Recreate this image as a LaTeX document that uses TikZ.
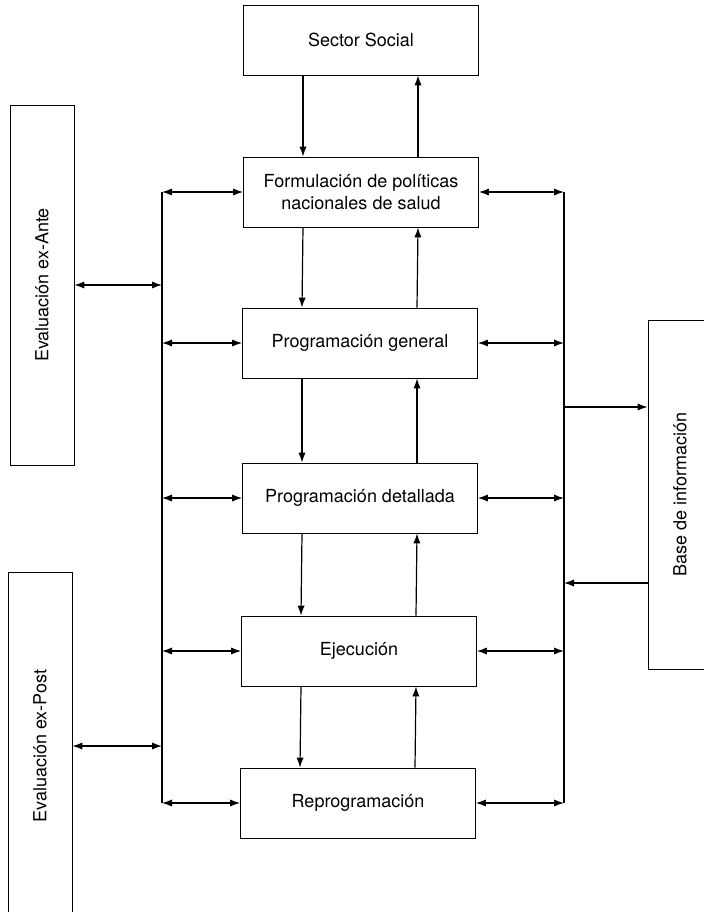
\documentclass[tikz,border=0pt]{standalone}
\usepackage{fontspec}
\setmainfont{TeX Gyre Heros}
\usetikzlibrary{arrows.meta}
\tikzset{
  >={Latex[length=5pt,width=3.6pt]},
}
\tikzstyle{box}=[draw,thin,minimum width=117.5pt,minimum height=35pt,align=center,inner sep=2pt]
\tikzstyle{side}=[draw,thin,rotate=90,minimum height=32pt,inner sep=2pt]
\tikzstyle{flow}=[semithick,->]
\tikzstyle{link}=[semithick,<->]
\tikzstyle{bus}=[thick]
\tikzstyle{every node}=[font=\fontsize{9}{11}\selectfont]

\begin{document}
\begin{tikzpicture}[x=0.5pt,y=-0.5pt]
    \useasboundingbox (0,0) rectangle (704,912);
    \node[box] (soc) at (361,40) {Sector Social};
    \node[box] (form) at (361,192) {Formulación de políticas\\nacionales de salud};
    \node[box] (gen) at (360,343) {Programación general};
    \node[box] (det) at (360,498) {Programación detallada};
    \node[box] (eje) at (359,651) {Ejecución};
    \node[box] (rep) at (358,803) {Reprogramación};
    \node[side,minimum width=180pt] (ante) at (42,285) {Evaluación ex-Ante};
    \node[side,minimum width=174pt] (post) at (40,746) {Evaluación ex-Post};
    \node[side,minimum width=174.5pt] (base) at (680,494.5) {Base de información};
    % vertical flow
    \draw[flow] ([xshift=-29pt]soc.south) -- ([xshift=-29pt]form.north);
    \draw[flow] ([xshift=28.5pt]form.north) -- ([xshift=28.5pt]soc.south);
    \draw[flow] ([xshift=-29pt]form.south) -- ([xshift=-29pt]gen.north);
    \draw[flow] ([xshift=28.5pt]gen.north) -- ([xshift=28.5pt]form.south);
    \draw[flow] ([xshift=-29pt]gen.south) -- ([xshift=-29pt]det.north);
    \draw[flow] ([xshift=28.5pt]det.north) -- ([xshift=28.5pt]gen.south);
    \draw[flow] ([xshift=-29pt]det.south) -- ([xshift=-29pt]eje.north);
    \draw[flow] ([xshift=28.5pt]eje.north) -- ([xshift=28.5pt]det.south);
    \draw[flow] ([xshift=-29pt]eje.south) -- ([xshift=-29pt]rep.north);
    \draw[flow] ([xshift=28.5pt]rep.north) -- ([xshift=28.5pt]eje.south);
    % left bus
    \coordinate (ltop) at (162,192);
    \coordinate (lbot) at (162,803);
    \draw[bus] (ltop) -- (lbot);
    \draw[link] (form.west -| ltop) -- (form.west);
    \draw[link] (gen.west -| ltop) -- (gen.west);
    \draw[link] (det.west -| ltop) -- (det.west);
    \draw[link] (eje.west -| ltop) -- (eje.west);
    \draw[link] (rep.west -| ltop) -- (rep.west);
    \draw[link] (ante.south) -- (ante.south -| ltop);
    \draw[link] (post.south) -- (post.south -| ltop);
    % right bus
    \coordinate (rtop) at (564,192);
    \coordinate (rbot) at (564,803);
    \draw[bus] (rtop) -- (rbot);
    \draw[link] (form.east) -- (form.east -| rtop);
    \draw[link] (gen.east) -- (gen.east -| rtop);
    \draw[link] (det.east) -- (det.east -| rtop);
    \draw[link] (eje.east) -- (eje.east -| rtop);
    \draw[link] (rep.east) -- (rep.east -| rtop);
    \coordinate (bin) at (564,407);
    \coordinate (bout) at (564,583);
    \draw[flow] (bin) -- (bin -| base.north);
    \draw[flow] (bout -| base.north) -- (bout);
\end{tikzpicture}
\end{document}
